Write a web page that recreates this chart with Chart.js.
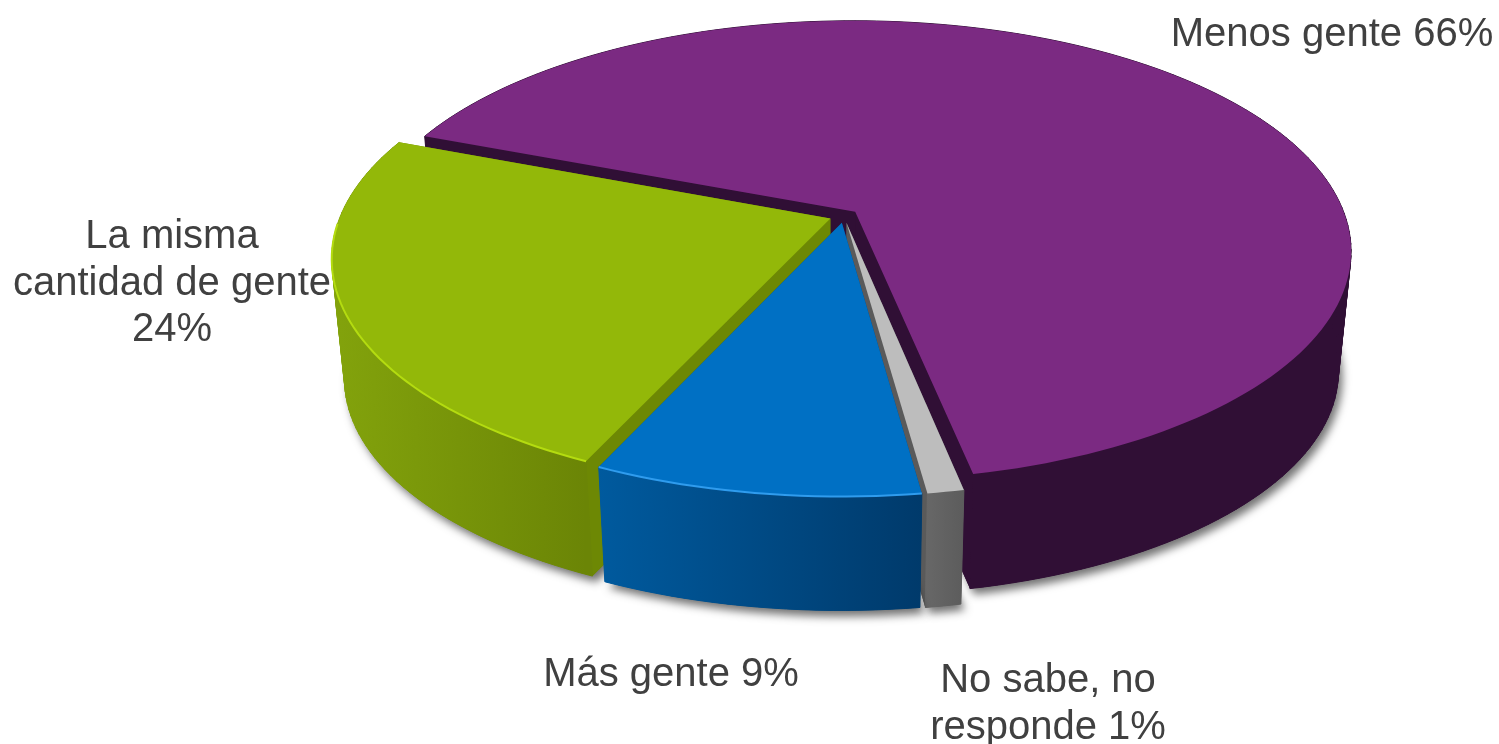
<!DOCTYPE html>
<html lang="es">
<head>
<meta charset="utf-8">
<title>Gente</title>
<script src="https://cdn.jsdelivr.net/npm/chart.js@4"></script>
<style>
    html, body { margin: 0; background: #fff; }
    canvas { display: block; }
</style>
</head>
<body>
<canvas id="grafico" width="1499" height="744"></canvas>
<script>
// orden de las porciones, en el sentido del reloj
const categorias = ['Menos gente', 'No sabe, no responde', 'Más gente', 'La misma cantidad de gente']
const valores = [66, 1, 9, 24]

const coloresCara = ['#7b2a82', '#bdbdbd', '#0070c4', '#93b809']
const coloresParedIzq = ['#300f35', '#676767', '#005a9e', '#83a30c']
const coloresParedDer = ['#300f35', '#5c5c5c', '#003a6b', '#6b8506']
const coloresCorte = ['#300f35', '#5a5a5a', '#004a80', '#6d8804']
const coloresBorde = [null, null, '#2f9cee', '#b4dc10']

// proyeccion del disco
const CX = 844, CY = 216, RX = 490, RY = 224.7, PERSP = 0.17
const ESCALA_BASE = 0.975, ALTO_BASE = 121
const PASOS = 120

const proyectar = (u, v, abajo) => {

    const w = 1 - PERSP * v
    const x = RX * u / w
    const y = RY * v / w

    if (!abajo) return [CX + x, CY + y]

    return [CX + x * ESCALA_BASE, CY + y * ESCALA_BASE + ALTO_BASE]
}

const trazar = (ctx, puntos) => {

    ctx.beginPath()
    puntos.forEach((p, i) => i ? ctx.lineTo(p[0], p[1]) : ctx.moveTo(p[0], p[1]))
    ctx.closePath()
}

const dibujarPorcion = (ctx, arco, i) => {

    const medio = (arco.startAngle + arco.endAngle) / 2
    const sep = arco.options.offset / 500
    const ou = Math.cos(medio) * sep
    const ov = Math.sin(medio) * sep
    const n = Math.max(4, Math.round(PASOS * (arco.endAngle - arco.startAngle) / Math.PI))

    const borde = (abajo) => {

        const puntos = []

        for (let k = 0; k <= n; k++) {

            const a = arco.startAngle + (arco.endAngle - arco.startAngle) * k / n
            puntos.push(proyectar(ou + Math.cos(a), ov + Math.sin(a), abajo))
        }

        return puntos
    }

    const arriba = borde(false)
    const abajo = borde(true)
    const centroA = proyectar(ou, ov, false)
    const centroB = proyectar(ou, ov, true)

    // sombra y base
    ctx.save()
    ctx.shadowColor = 'rgba(0,0,0,0.55)'
    ctx.shadowBlur = 9
    ctx.shadowOffsetX = 4
    ctx.shadowOffsetY = 6
    ctx.fillStyle = coloresCorte[i]
    trazar(ctx, [centroB, ...abajo])
    ctx.fill()
    ctx.restore()

    // cortes interiores
    ctx.fillStyle = coloresCorte[i]
    trazar(ctx, [centroA, arriba[0], abajo[0], centroB])
    ctx.fill()
    trazar(ctx, [centroA, arriba[n], abajo[n], centroB])
    ctx.fill()

    // pared exterior, tramo a tramo para que la silueta lateral no quede hueca
    const xs = arriba.map(p => p[0])
    const grad = ctx.createLinearGradient(Math.min(...xs), 0, Math.max(...xs), 0)
    grad.addColorStop(0, coloresParedIzq[i])
    grad.addColorStop(1, coloresParedDer[i])
    ctx.fillStyle = grad
    ctx.strokeStyle = grad
    ctx.lineWidth = 1

    for (let k = 0; k < n; k++) {

        trazar(ctx, [arriba[k], arriba[k + 1], abajo[k + 1], abajo[k]])
        ctx.fill()
        ctx.stroke()
    }

    // cara superior
    ctx.fillStyle = arco.options.backgroundColor
    trazar(ctx, [centroA, ...arriba])
    ctx.fill()

    // brillo del canto
    if (coloresBorde[i]) {

        const frente = arriba.filter((p, k) => {
            const a = arco.startAngle + (arco.endAngle - arco.startAngle) * k / n
            return Math.sin(a) > 0
        })

        ctx.strokeStyle = coloresBorde[i]
        ctx.lineWidth = 2
        ctx.beginPath()
        frente.forEach((p, k) => k ? ctx.lineTo(p[0], p[1]) : ctx.moveTo(p[0], p[1]))
        ctx.stroke()
    }
}

const etiquetas = [
    { lineas: ['Menos gente 66%'], x: 1332, y: 46 },
    { lineas: ['La misma', 'cantidad de gente', '24%'], x: 172, y: 248 },
    { lineas: ['Más gente 9%'], x: 671, y: 686 },
    { lineas: ['No sabe, no', 'responde 1%'], x: 1048, y: 692 }
]

const pie3d = {
    id: 'pie3d',
    beforeDatasetsDraw(chart) {

        const ctx = chart.ctx
        const arcos = chart.getDatasetMeta(0).data
        const orden = arcos.map((a, i) => i).sort((a, b) => {
            const ma = (arcos[a].startAngle + arcos[a].endAngle) / 2
            const mb = (arcos[b].startAngle + arcos[b].endAngle) / 2
            return Math.sin(ma) - Math.sin(mb) || Math.cos(mb) - Math.cos(ma)
        })

        orden.forEach(i => dibujarPorcion(ctx, arcos[i], i))

        ctx.font = '40px "Liberation Sans", Arial, sans-serif'
        ctx.fillStyle = '#404040'
        ctx.textAlign = 'center'
        ctx.textBaseline = 'alphabetic'

        etiquetas.forEach(e => {
            e.lineas.forEach((t, k) => ctx.fillText(t, e.x, e.y + k * 46.5))
        })

        return false
    }
}

new Chart(document.getElementById('grafico'), {
    type: 'pie',
    data: {
        labels: categorias,
        datasets: [{
            data: valores,
            backgroundColor: coloresCara,
            offset: 15
        }]
    },
    options: {
        responsive: false,
        animation: false,
        rotation: 291,
        plugins: {
            legend: { display: false },
            tooltip: { enabled: false }
        }
    },
    plugins: [pie3d]
})
</script>
</body>
</html>
